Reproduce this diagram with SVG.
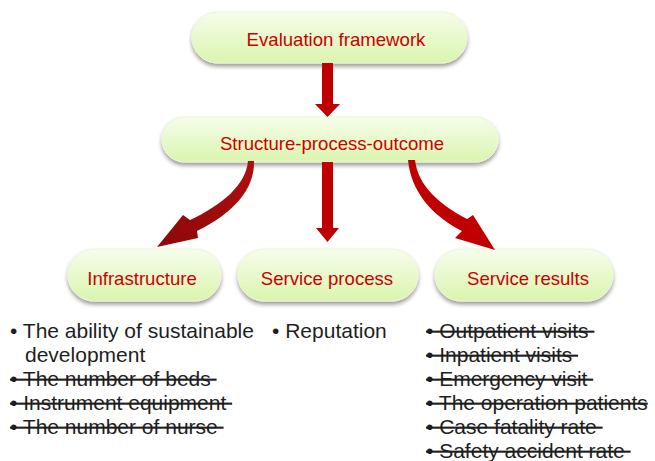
<svg xmlns="http://www.w3.org/2000/svg" width="655" height="461" viewBox="0 0 655 461">
<defs>
<linearGradient id="nodeFill" x1="0" y1="0" x2="0" y2="1">
<stop offset="0" stop-color="#f6fdeb"/>
<stop offset="1" stop-color="#daf5ae"/>
</linearGradient>
<linearGradient id="darkArrow" x1="1" y1="0" x2="0" y2="1">
<stop offset="0" stop-color="#b00f0f"/>
<stop offset="1" stop-color="#8c0808"/>
</linearGradient>
<filter id="shadow" x="-10%" y="-20%" width="120%" height="160%">
<feGaussianBlur in="SourceAlpha" stdDeviation="2"/>
<feOffset dx="0" dy="3" result="b"/>
<feComponentTransfer><feFuncA type="linear" slope="0.4"/></feComponentTransfer>
<feMerge><feMergeNode/><feMergeNode in="SourceGraphic"/></feMerge>
</filter>
</defs>
<style>
.node rect{fill:url(#nodeFill);stroke:#eaf7d6;stroke-width:1;filter:url(#shadow);}
.node text{font-family:"Liberation Sans",Arial,sans-serif;font-size:18.6px;fill:#cc0000;text-anchor:middle;}
.arrow{fill:#c00000;}
.list{font-family:"Liberation Sans",Arial,sans-serif;font-size:21px;fill:#1e1e1e;}
.del{text-decoration:line-through;}
</style>
<g id="node-evaluation" class="node">
<rect x="192" y="12" width="275" height="51" rx="25.5"/>
<text x="336" y="46">Evaluation framework</text>
</g>
<g id="node-spo" class="node">
<rect x="162" y="117" width="336" height="45" rx="22.5"/>
<text x="332" y="150">Structure-process-outcome</text>
</g>
<g id="node-infrastructure" class="node">
<rect x="68" y="249" width="153" height="52" rx="26"/>
<text x="142" y="285">Infrastructure</text>
</g>
<g id="node-service-process" class="node">
<rect x="238" y="249" width="180" height="52" rx="26"/>
<text x="327" y="285">Service process</text>
</g>
<g id="node-service-results" class="node">
<rect x="435" y="249" width="178" height="52" rx="26"/>
<text x="528" y="285">Service results</text>
</g>
<g id="connectors">
<path class="arrow" d="M322,63 H333 V104 H340 L327.5,117 L315,104 H322 Z"/>
<path class="arrow" d="M322,162 H333 V228 H339 L327.5,242 L316,228 H322 Z"/>
<path fill="url(#darkArrow)" d="M248,161 L254,161 C255,190 232,214 197,231 L198,238 L157,247 L183,215 L190,220 C222,205 246,185 248,161 Z"/>
<path class="arrow" d="M408,160 C411,191 431,215 462,231 L455,238 L495,250 L473,215 L467,219 C440,205 418,186 415,160 Z"/>
</g>
<g id="list-infrastructure" class="list">
<text x="10" y="338">• The ability of sustainable</text>
<text x="25" y="362">development</text>
<text x="10" y="386" class="del">• The number of beds&#160;</text>
<text x="10" y="410" class="del">• Instrument equipment&#160;</text>
<text x="10" y="434" class="del">• The number of nurse&#160;</text>
</g>
<g id="list-service-process" class="list">
<text x="272" y="338">• Reputation</text>
</g>
<g id="list-service-results" class="list">
<text x="426" y="338" class="del">• Outpatient visits&#160;</text>
<text x="426" y="362" class="del">• Inpatient visits&#160;</text>
<text x="426" y="386" class="del">• Emergency visit&#160;</text>
<text x="426" y="410" class="del">• The operation patients</text>
<text x="426" y="434" class="del">• Case fatality rate&#160;</text>
<text x="426" y="458" class="del">• Safety accident rate&#160;</text>
</g>
</svg>
